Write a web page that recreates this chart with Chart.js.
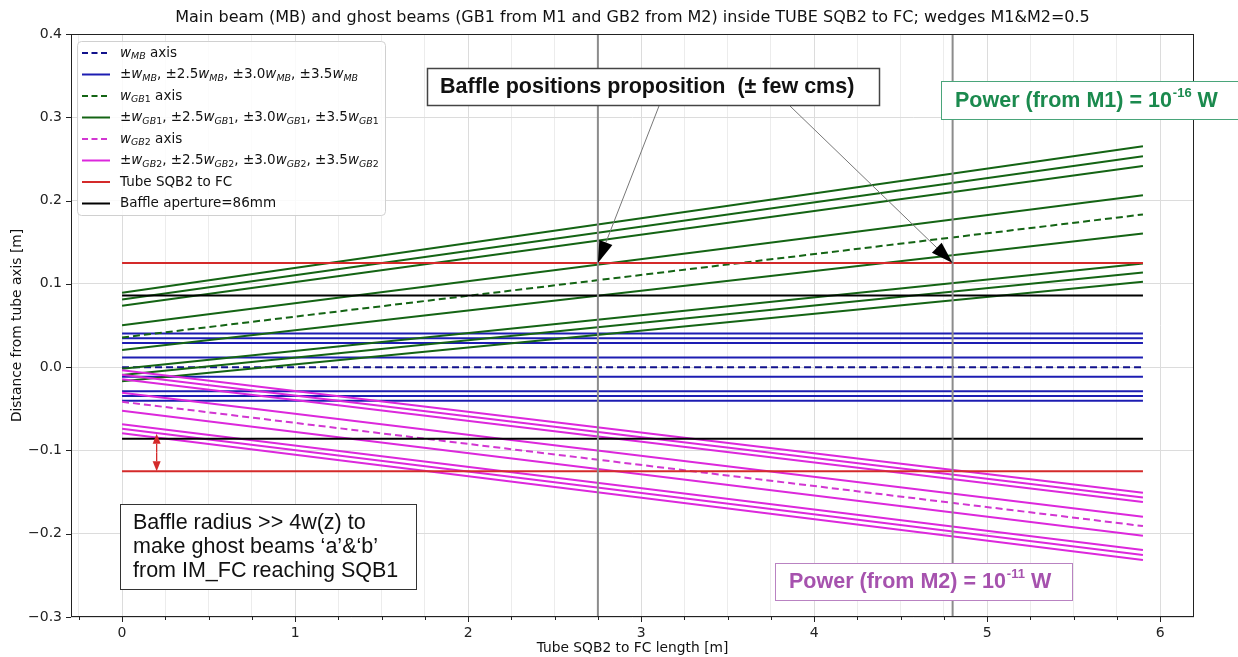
<!DOCTYPE html>
<html>
<head>
<meta charset="utf-8">
<script src="https://cdn.jsdelivr.net/npm/chart.js@4/dist/chart.umd.min.js"></script>
<style>
  html, body { margin:0; padding:0; background:#fff; }
</style>
</head>
<body>
<canvas id="chart" width="1238" height="657"></canvas>
<script>
// ---- data (values at z = 0 m and z = 5.9 m) ----
const Z_RANGE = [0, 5.9];
const X_MIN = -0.295, X_MAX = 6.195;
const Y_MIN = -0.3, Y_MAX = 0.4;

// main beam (flat)
const MB_AXIS  = [0, 0];
const MB_START = [0.0404, 0.0346, 0.0290, 0.0116, -0.0116, -0.0290, -0.0346, -0.0404];
const MB_END   = [0.0404, 0.0346, 0.0290, 0.0116, -0.0116, -0.0290, -0.0346, -0.0404];

// ghost beam 1 (from M1)
const GB1_AXIS  = [0.0356, 0.1833];
const GB1_START = [0.0892, 0.0812, 0.0736, 0.0504, 0.0206, -0.0019, -0.0094, -0.0169];
const GB1_END   = [0.2652, 0.2532, 0.2416, 0.2064, 0.1605, 0.1245, 0.1137, 0.1025];

// ghost beam 2 (from M2)
const GB2_AXIS  = [-0.0416, -0.1908];
const GB2_START = [-0.0038, -0.0092, -0.0146, -0.0308, -0.0524, -0.0686, -0.0740, -0.0794];
const GB2_END   = [-0.1508, -0.1564, -0.1620, -0.1796, -0.2024, -0.2196, -0.2256, -0.2316];

const TUBE_R   = [0.125, -0.125];
const BAFFLE_R = [0.086, -0.086];
const BAFFLE_Z = [2.75, 4.8];     // proposed baffle positions
const GAP_Z    = 0.2;             // red double arrow
const GAP_Y    = [-0.080, -0.125];

const TITLE = 'Main beam (MB) and ghost beams (GB1 from M1 and GB2 from M2) inside TUBE SQB2 to FC; wedges M1&M2=0.5';
const X_LABEL = 'Tube SQB2 to FC length [m]';
const Y_LABEL = 'Distance from tube axis [m]';

const C_MB_AXIS = '#12128c', C_MB = '#1d1db2';
const C_GB1 = '#146414';
const C_GB2_AXIS = '#d236d2', C_GB2 = '#dc28dc';
const C_TUBE = '#d42a2a', C_BAF = '#000000', C_VLINE = '#8c8c8c';
const DASH = [7, 4];

// legend entries: style + label parts (i = italic, si = italic subscript, sn = upright subscript)
const W_MB  = [{t:'w',s:'i'},{t:'MB',s:'si'}];
const W_GB1 = [{t:'w',s:'i'},{t:'GB',s:'si'},{t:'1',s:'sn'}];
const W_GB2 = [{t:'w',s:'i'},{t:'GB',s:'si'},{t:'2',s:'sn'}];
function edges(w){ return [{t:'\u00b1'}, ...w, {t:', \u00b12.5'}, ...w, {t:', \u00b13.0'}, ...w, {t:', \u00b13.5'}, ...w]; }
const LEGEND = [
  { color:C_MB_AXIS, dash:true,  parts:[...W_MB, {t:' axis'}] },
  { color:C_MB,      dash:false, parts:edges(W_MB) },
  { color:C_GB1,     dash:true,  parts:[...W_GB1, {t:' axis'}] },
  { color:C_GB1,     dash:false, parts:edges(W_GB1) },
  { color:C_GB2_AXIS,dash:true,  parts:[...W_GB2, {t:' axis'}] },
  { color:C_GB2,     dash:false, parts:edges(W_GB2) },
  { color:C_TUBE,    dash:false, parts:[{t:'Tube SQB2 to FC'}] },
  { color:C_BAF,     dash:false, parts:[{t:'Baffle aperture=86mm'}] }
];

// ---- datasets ----
const datasets = [];
function seg(y0, y1, color, dashed, width){
  datasets.push({
    data: [{x:Z_RANGE[0], y:y0}, {x:Z_RANGE[1], y:y1}],
    borderColor: color, borderWidth: width || 2, borderDash: dashed ? DASH : [],
    pointRadius: 0, fill: false, tension: 0
  });
}
seg(MB_AXIS[0], MB_AXIS[1], C_MB_AXIS, true);
MB_START.forEach((v,i) => seg(v, MB_END[i], C_MB, false));
seg(GB1_AXIS[0], GB1_AXIS[1], C_GB1, true);
GB1_START.forEach((v,i) => seg(v, GB1_END[i], C_GB1, false));
seg(GB2_AXIS[0], GB2_AXIS[1], C_GB2_AXIS, true);
GB2_START.forEach((v,i) => seg(v, GB2_END[i], C_GB2, false));
TUBE_R.forEach(r => seg(r, r, C_TUBE, false));
BAFFLE_R.forEach(r => seg(r, r, C_BAF, false));
BAFFLE_Z.forEach(z => datasets.push({
  data: [{x:z, y:Y_MIN}, {x:z, y:Y_MAX}],
  borderColor: C_VLINE, borderWidth: 2, pointRadius: 0, fill: false
}));
// later datasets on top, like matplotlib
datasets.forEach((d,i) => d.order = -i);

// ---- drawing helpers ----
function rich(ctx, x, y, parts, size){
  parts.forEach(p => {
    let dy = 0, font = size + 'px "DejaVu Sans"';
    if (p.s === 'i') font = 'italic ' + size + 'px "DejaVu Sans"';
    if (p.s === 'si') { font = 'italic ' + (size*0.7) + 'px "DejaVu Sans"'; dy = size*0.28; }
    if (p.s === 'sn') { font = (size*0.7) + 'px "DejaVu Sans"'; dy = size*0.28; }
    ctx.font = font;
    ctx.fillText(p.t, x, y + dy);
    x += ctx.measureText(p.t).width;
  });
}

function arrow(ctx, x0, y0, x1, y1, len, hw, lineColor, headColor, lw){
  const a = Math.atan2(y1 - y0, x1 - x0);
  const bx = x1 - len*Math.cos(a), by = y1 - len*Math.sin(a);
  ctx.strokeStyle = lineColor; ctx.lineWidth = lw || 1;
  ctx.beginPath(); ctx.moveTo(x0, y0); ctx.lineTo(bx, by); ctx.stroke();
  ctx.fillStyle = headColor;
  ctx.beginPath();
  ctx.moveTo(x1, y1);
  ctx.lineTo(bx - hw*Math.sin(a), by + hw*Math.cos(a));
  ctx.lineTo(bx + hw*Math.sin(a), by - hw*Math.cos(a));
  ctx.closePath(); ctx.fill();
}

function textBox(ctx, x, y, w, h, stroke, lw){
  ctx.fillStyle = '#fff'; ctx.fillRect(x, y, w, h);
  ctx.strokeStyle = stroke; ctx.lineWidth = lw;
  ctx.strokeRect(x + 0.5, y + 0.5, w, h);
}

function powerText(ctx, x, y, color, exp){
  ctx.fillStyle = color; ctx.textBaseline = 'middle'; ctx.textAlign = 'left';
  ctx.font = 'bold 21.5px "Liberation Sans"';
  const main = 'Power (from M' + (exp === '-16' ? '1' : '2') + ') = 10';
  ctx.fillText(main, x, y);
  let cx = x + ctx.measureText(main).width + 1;
  ctx.font = 'bold 13px "Liberation Sans"';
  ctx.fillText(exp, cx, y - 8);
  cx += ctx.measureText(exp).width;
  ctx.font = 'bold 21.5px "Liberation Sans"';
  ctx.fillText(' W', cx, y);
}

const decor = {
  id: 'decor',
  afterDatasetsDraw(chart){
    const ctx = chart.ctx, a = chart.chartArea;
    const xs = chart.scales.x, ys = chart.scales.y;
    ctx.save();

    // frame
    ctx.strokeStyle = '#222'; ctx.lineWidth = 1;
    ctx.strokeRect(a.left + 0.5, a.top + 0.5, a.right - a.left - 1, a.bottom - a.top - 1);

    // tick marks
    ctx.beginPath();
    xs.ticks.forEach(t => {
      const px = Math.round(xs.getPixelForValue(t.value)) + 0.5;
      const major = Math.abs(t.value - Math.round(t.value)) < 1e-6;
      ctx.moveTo(px, a.bottom); ctx.lineTo(px, a.bottom + (major ? 5 : 3));
    });
    ys.ticks.forEach(t => {
      const py = Math.round(ys.getPixelForValue(t.value)) + 0.5;
      ctx.moveTo(a.left - 5, py); ctx.lineTo(a.left, py);
    });
    ctx.stroke();

    // titles
    ctx.fillStyle = '#111'; ctx.textAlign = 'center'; ctx.textBaseline = 'middle';
    ctx.font = '16px "DejaVu Sans"';
    ctx.fillText(TITLE, (a.left + a.right)/2, 18);
    ctx.font = '13.8px "DejaVu Sans"';
    ctx.fillText(X_LABEL, (a.left + a.right)/2, 648);
    ctx.save();
    ctx.translate(17, (a.top + a.bottom)/2);
    ctx.rotate(-Math.PI/2);
    ctx.fillText(Y_LABEL, 0, 0);
    ctx.restore();

    // red gap arrow between baffle and tube
    const gx = xs.getPixelForValue(GAP_Z);
    const gy0 = ys.getPixelForValue(GAP_Y[0]), gy1 = ys.getPixelForValue(GAP_Y[1]);
    const gm = (gy0 + gy1)/2;
    arrow(ctx, gx, gm, gx, gy0, 10, 4, C_TUBE, C_TUBE, 1.3);
    arrow(ctx, gx, gm, gx, gy1, 10, 4, C_TUBE, C_TUBE, 1.3);

    // legend
    ctx.fillStyle = 'rgba(255,255,255,0.85)';
    ctx.strokeStyle = '#d0d0d0'; ctx.lineWidth = 1;
    ctx.beginPath(); ctx.roundRect(77.5, 41.5, 308, 174, 4); ctx.fill(); ctx.stroke();
    ctx.textAlign = 'left'; ctx.textBaseline = 'middle';
    LEGEND.forEach((e, i) => {
      const y = 53 + i*21.5;
      ctx.strokeStyle = e.color; ctx.lineWidth = 2;
      ctx.setLineDash(e.dash ? [6, 3.5] : []);
      ctx.beginPath(); ctx.moveTo(82, y); ctx.lineTo(110, y); ctx.stroke();
      ctx.setLineDash([]);
      ctx.fillStyle = '#111';
      rich(ctx, 120, y, e.parts, 13.5);
    });

    // baffle positions annotation with arrows to the tube wall
    const tip1x = xs.getPixelForValue(BAFFLE_Z[0]), tip2x = xs.getPixelForValue(BAFFLE_Z[1]);
    const tipy = ys.getPixelForValue(TUBE_R[0]);
    arrow(ctx, 659, 106, tip1x, tipy, 22, 7, '#777', '#000', 1);
    arrow(ctx, 790, 106, tip2x, tipy, 22, 7, '#777', '#000', 1);
    textBox(ctx, 427, 68, 452, 37, '#444', 1.5);
    ctx.fillStyle = '#111'; ctx.textBaseline = 'middle'; ctx.textAlign = 'left';
    ctx.font = 'bold 21.5px "Liberation Sans"';
    ctx.fillText('Baffle positions proposition  (\u00b1 few cms)', 440, 87);

    // power boxes
    textBox(ctx, 941, 81, 300, 38, '#4aa57a', 1);
    powerText(ctx, 955, 101, '#1b8a4e', '-16');
    textBox(ctx, 775, 563, 297, 37, '#b983c2', 1);
    powerText(ctx, 789, 582, '#a652ae', '-11');

    // baffle radius note
    textBox(ctx, 120, 504, 296, 85, '#333', 1);
    ctx.fillStyle = '#111'; ctx.font = '21.5px "Liberation Sans"';
    ctx.fillText('Baffle radius >> 4w(z) to', 133, 523);
    ctx.fillText('make ghost beams \u2018a\u2019&\u2018b\u2019', 133, 547);
    ctx.fillText('from IM_FC reaching SQB1', 133, 571);

    ctx.restore();
  }
};

new Chart(document.getElementById('chart'), {
  type: 'line',
  data: { datasets },
  options: {
    responsive: false,
    animation: false,
    layout: { padding: { top: 34, right: 44, left: 0, bottom: 0 } },
    plugins: { legend: { display: false }, tooltip: { enabled: false }, title: { display: false } },
    scales: {
      x: {
        type: 'linear', min: X_MIN, max: X_MAX,
        afterFit(s){ s.height = 40; },
        border: { display: false },
        grid: {
          drawTicks: false,
          color: c => Math.abs(c.tick.value - Math.round(c.tick.value)) < 1e-6 ? '#dcdcdc' : '#ececec'
        },
        ticks: {
          stepSize: 0.25, includeBounds: false, autoSkip: false, maxRotation: 0, padding: 8,
          color: '#222', font: { family: 'DejaVu Sans', size: 14 },
          callback: v => Math.abs(v - Math.round(v)) < 1e-6 ? String(Math.round(v)) : ''
        }
      },
      y: {
        type: 'linear', min: Y_MIN, max: Y_MAX,
        afterFit(s){ s.width = 71; },
        border: { display: false },
        grid: { drawTicks: false, color: '#dcdcdc' },
        ticks: {
          stepSize: 0.1, padding: 9,
          color: '#222', font: { family: 'DejaVu Sans', size: 14 },
          callback: v => (v < -1e-9 ? '\u2212' : '') + Math.abs(v).toFixed(1)
        }
      }
    }
  },
  plugins: [decor]
});
</script>
</body>
</html>
